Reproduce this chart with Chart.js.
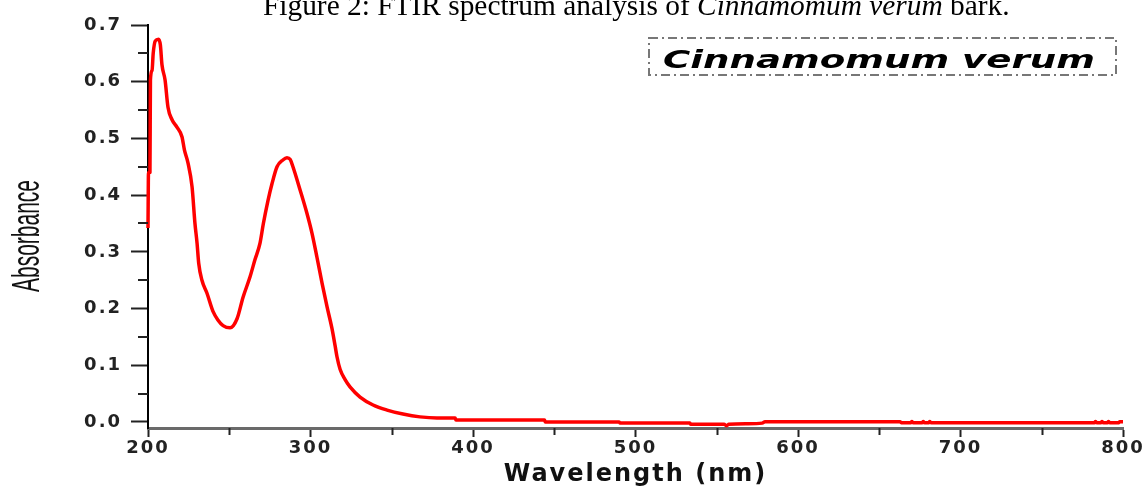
<!DOCTYPE html>
<html>
<head>
<meta charset="utf-8">
<script src="https://cdn.jsdelivr.net/npm/chart.js@4.4.1/dist/chart.umd.min.js"></script>
<style>
  html, body { margin: 0; padding: 0; background: #fff; }
  #wrap { width: 1148px; height: 489px; }
</style>
</head>
<body>
<div id="wrap"><canvas id="chart" width="1148" height="489"></canvas></div>
<script>
// values (nm / absorbance)
const wavelength = [
  200, 200.3, 201.2, 201.5, 202.5, 203.2, 204.5, 206.5, 207.6, 208.6,
  210.5, 212.3, 214.8, 217.8, 220.9, 222.4, 224.6, 227.1, 228.9, 230.2,
  231.2, 233.2, 236.3, 240, 243, 246.2, 250.5, 254.8, 258.5, 262.8,
  265.8, 268.9, 271, 273.8, 276.3, 279.4, 283, 285.5, 287.5, 289.2,
  293.5, 297.8, 300.9, 304, 307.1, 310.2, 313.2, 315.1, 316.3, 318.2,
  321.2, 324.3, 330.5, 338.5, 347.1, 356.9, 367.4, 377.8, 389, 389.5,
  444, 444.5, 490, 490.5, 533.5, 534, 554.5, 556, 557.5, 568.6,
  578, 579.7, 662.8, 663.5, 669.5, 670, 671, 676.5, 677, 678,
  680.5, 681, 682, 782.5, 783, 784, 786.5, 787, 788, 790.5,
  791, 792, 797.5, 798, 800
];
const absorbance = [
  0.342, 0.44, 0.44, 0.603, 0.62, 0.65, 0.672, 0.675, 0.665, 0.63,
  0.603, 0.555, 0.533, 0.52, 0.503, 0.48, 0.457, 0.415, 0.35, 0.315,
  0.28, 0.25, 0.227, 0.195, 0.18, 0.17, 0.166, 0.182, 0.22, 0.256,
  0.286, 0.315, 0.35, 0.39, 0.42, 0.45, 0.462, 0.466, 0.463, 0.45,
  0.41, 0.368, 0.333, 0.29, 0.245, 0.203, 0.165, 0.135, 0.115, 0.093,
  0.075, 0.062, 0.044, 0.03, 0.021, 0.014, 0.009, 0.007, 0.007, 0.0035,
  0.0035, 0.0, 0.0, -0.002, -0.002, -0.004, -0.004, -0.0065, -0.004, -0.003,
  -0.002, 0.0005, 0.0005, -0.0012, -0.0012, 0.001, -0.0012, -0.0012, 0.001, -0.0012,
  -0.0012, 0.001, -0.0012, -0.0012, 0.001, -0.0012, -0.0012, 0.001, -0.0012, -0.0012,
  0.001, -0.0012, -0.0012, 0.0005, 0.0005
];
const xTicks = [200, 300, 400, 500, 600, 700, 800];
const xMinorTicks = [250, 350, 450, 550, 650, 750];
const yTicks = [0, 0.1, 0.2, 0.3, 0.4, 0.5, 0.6, 0.7];
const yMinorTicks = [0.05, 0.15, 0.25, 0.35, 0.45, 0.55, 0.65];
const seriesName = 'Cinnamomum verum';
const titleParts = ['Figure 2: FTIR spectrum analysis of ', 'Cinnamomum verum', ' bark.'];

const points = wavelength.map((w, i) => ({ x: w, y: absorbance[i] }));

const extras = {
  id: 'extras',
  beforeDraw(chart) {
    const ctx = chart.ctx;
    ctx.save();
    ctx.fillStyle = '#fff';
    ctx.fillRect(0, 0, chart.width, chart.height);
    ctx.restore();
    ctx.letterSpacing = '2px'; // wide axis lettering like the original
  },
  beforeDatasetsDraw(chart) {
    chart.ctx.letterSpacing = '0px';
  },
  afterDraw(chart) {
    const ctx = chart.ctx;
    const xs = chart.scales.x, ys = chart.scales.y;
    ctx.save();
    ctx.letterSpacing = '0px';

    // minor ticks
    ctx.strokeStyle = '#222';
    ctx.lineWidth = 2;
    ctx.beginPath();
    xMinorTicks.forEach(v => {
      const px = Math.round(xs.getPixelForValue(v)) + 0.5;
      ctx.moveTo(px, xs.top);
      ctx.lineTo(px, xs.top + 7);
    });
    yMinorTicks.forEach(v => {
      const py = Math.round(ys.getPixelForValue(v));
      ctx.moveTo(ys.right - 10, py);
      ctx.lineTo(ys.right, py);
    });
    ctx.stroke();

    // y axis title (narrow, tall lettering)
    ctx.save();
    ctx.translate(39, 236);
    ctx.rotate(-Math.PI / 2);
    ctx.font = '24px "Liberation Sans Narrow", "Liberation Sans", sans-serif';
    const aw = ctx.measureText('Absorbance').width;
    ctx.scale(112 / aw, 1.6);
    ctx.fillStyle = '#111';
    ctx.textAlign = 'center';
    ctx.textBaseline = 'alphabetic';
    ctx.fillText('Absorbance', 0, 0);
    ctx.restore();

    // legend box
    ctx.save();
    ctx.strokeStyle = '#777';
    ctx.lineWidth = 2;
    ctx.setLineDash([9, 4, 2, 4]);
    ctx.strokeRect(649, 38, 467, 37);
    ctx.restore();
    ctx.save();
    ctx.font = 'italic bold 25px "DejaVu Sans", sans-serif';
    const lw = ctx.measureText(seriesName).width;
    ctx.translate(663, 68);
    ctx.scale(432 / lw, 1);
    ctx.fillStyle = '#000';
    ctx.textBaseline = 'alphabetic';
    ctx.fillText(seriesName, 0, 0);
    ctx.restore();

    // figure caption at the top (cut by the page edge)
    const fonts = ['27px "Liberation Serif", serif', 'italic 27px "Liberation Serif", serif', '27px "Liberation Serif", serif'];
    let total = 0;
    titleParts.forEach((t, i) => { ctx.font = fonts[i]; total += ctx.measureText(t).width; });
    const k = 747 / total;
    let tx = 263;
    ctx.fillStyle = '#000';
    ctx.textBaseline = 'alphabetic';
    titleParts.forEach((t, i) => {
      ctx.font = fonts[i].replace('27px', (27 * k).toFixed(2) + 'px');
      ctx.fillText(t, tx, 15);
      tx += ctx.measureText(t).width;
    });
    ctx.restore();
  }
};

new Chart(document.getElementById('chart'), {
  type: 'line',
  data: {
    datasets: [{
      label: seriesName,
      data: points,
      borderColor: '#ff0000',
      borderWidth: 3.5,
      borderJoinStyle: 'round',
      cubicInterpolationMode: 'monotone',
      pointRadius: 0,
      fill: false,
      clip: 4
    }]
  },
  options: {
    responsive: false,
    animation: false,
    layout: { padding: { left: 0, right: 25, top: 25, bottom: 0 } },
    plugins: { legend: { display: false }, tooltip: { enabled: false } },
    scales: {
      x: {
        type: 'linear',
        min: 200,
        max: 800,
        afterBuildTicks: s => { s.ticks = xTicks.map(v => ({ value: v })); },
        afterFit: s => { s.height = 61; },
        grid: { drawOnChartArea: false, drawTicks: true, tickLength: 9, tickWidth: 2, tickColor: '#222' },
        border: { display: true, color: '#6a6a6a', width: 3 },
        ticks: {
          padding: 1,
          color: '#222',
          maxRotation: 0,
          font: { family: '"DejaVu Sans", sans-serif', size: 18, weight: 'bold' }
        },
        title: {
          display: true,
          text: 'Wavelength (nm)',
          color: '#111',
          padding: { top: 0, bottom: 0 },
          font: { family: '"DejaVu Sans", sans-serif', size: 24, weight: 'bold' }
        }
      },
      y: {
        min: -0.0106,
        max: 0.7,
        afterBuildTicks: s => { s.ticks = yTicks.map(v => ({ value: v })); },
        afterFit: s => { s.width = 148; },
        grid: { drawOnChartArea: false, drawTicks: true, tickLength: 17, tickWidth: 2, tickColor: '#222' },
        border: { display: true, color: '#000', width: 2 },
        ticks: {
          padding: 9,
          color: '#222',
          callback: v => v.toFixed(1),
          font: { family: '"DejaVu Sans", sans-serif', size: 18, weight: 'bold' }
        },
        title: { display: false }
      }
    }
  },
  plugins: [extras]
});
</script>
</body>
</html>
